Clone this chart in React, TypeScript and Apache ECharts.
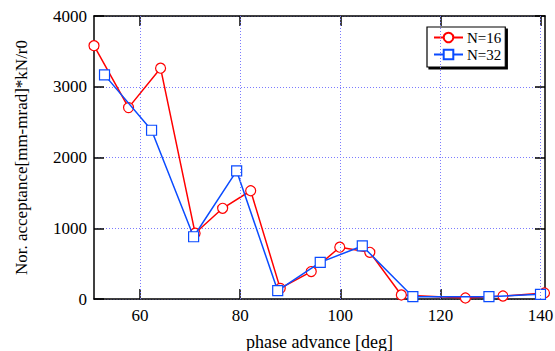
import React, { useEffect, useRef } from "react";
import * as echarts from "echarts";

const n16X = [50.8, 57.7, 64.1, 71.0, 76.5, 82.1, 88.0, 94.2, 99.9, 105.9, 112.2, 125.0, 132.5, 140.8];
const n16Y = [3580, 2705, 3262, 930, 1282, 1530, 150, 388, 732, 660, 57, 14, 42, 85];
const n32X = [52.9, 62.3, 70.7, 79.3, 87.5, 96.0, 104.4, 114.5, 129.7, 140.0];
const n32Y = [3168, 2385, 880, 1810, 118, 518, 750, 33, 33, 66];
const seriesNames = ["N=16", "N=32"];
const xTicks = [60, 80, 100, 120, 140];

const FONT = "Liberation Serif";

export default function App() {
  const ref = useRef<HTMLDivElement>(null);
  useEffect(() => {
    if (!ref.current) return;
    const chart = echarts.init(ref.current, null, { renderer: "svg" });
    const xMin = 50.8;
    const xMax = 140.9;
    const gridLine = { show: true, lineStyle: { color: "#7b7bff", type: [1, 2] as any, width: 1 } };
    const tickStyle = { show: true, inside: true, length: 10, lineStyle: { color: "#000", width: 1.5 } };
    const labelStyle = { fontFamily: FONT, fontSize: 17, color: "#000" };
    chart.setOption({
      animation: false,
      backgroundColor: "#fff",
      textStyle: { fontFamily: FONT },
      grid: { left: 94, right: 10, top: 16, bottom: 52, containLabel: false, outerBoundsMode: "none" },
      legend: {
        orient: "vertical",
        left: 427,
        top: 27,
        padding: [3, 4, 5, 6],
        itemGap: 2,
        itemWidth: 29,
        itemHeight: 12,
        backgroundColor: "#fff",
        borderColor: "#000",
        borderWidth: 1.2,
        shadowColor: "#000",
        shadowOffsetX: 2,
        shadowOffsetY: 2,
        shadowBlur: 0,
        textStyle: { fontFamily: FONT, fontSize: 15, color: "#000", padding: [0, 0, 0, -1] },
        data: seriesNames,
      },
      xAxis: [
        {
          type: "value",
          min: xMin,
          max: xMax,
          name: "phase advance [deg]",
          nameLocation: "middle",
          nameGap: 34,
          nameTextStyle: { fontFamily: FONT, fontSize: 18, color: "#000" },
          axisLine: { show: true, onZero: false, lineStyle: { color: "#000", width: 1.5 } },
          axisTick: { ...tickStyle, customValues: xTicks },
          axisLabel: { ...labelStyle, margin: 8, customValues: xTicks, formatter: (v: number) => String(v) },
          splitLine: { show: false },
        },
        {
          type: "value",
          position: "top",
          min: xMin,
          max: xMax,
          axisLine: { show: true, onZero: false, lineStyle: { color: "#000", width: 1.5 } },
          axisTick: { ...tickStyle, customValues: xTicks },
          axisLabel: { show: false },
          splitLine: { show: false },
        },
      ],
      yAxis: [
        {
          type: "value",
          min: 0,
          max: 4000,
          interval: 1000,
          name: "Nor. acceptance[mm-mrad]*kN/r0",
          nameLocation: "middle",
          nameGap: 64,
          nameTextStyle: { fontFamily: FONT, fontSize: 17, color: "#000" },
          axisLine: { show: true, onZero: false, lineStyle: { color: "#000", width: 1.5 } },
          axisTick: tickStyle,
          axisLabel: { ...labelStyle, margin: 7, formatter: (v: number) => String(v) },
          splitLine: gridLine,
        },
        {
          type: "value",
          position: "right",
          min: 0,
          max: 4000,
          interval: 1000,
          axisLine: { show: true, onZero: false, lineStyle: { color: "#000", width: 1.5 } },
          axisTick: tickStyle,
          axisLabel: { show: false },
          splitLine: { show: false },
        },
      ],
      series: [
        {
          type: "line",
          name: "grid",
          xAxisIndex: 0,
          yAxisIndex: 0,
          data: [],
          silent: true,
          markLine: {
            silent: true,
            symbol: "none",
            label: { show: false },
            lineStyle: { color: "#7b7bff", type: [1, 2], width: 1 },
            data: xTicks.map((v) => ({ xAxis: v })),
          },
        },
        {
          type: "line",
          name: seriesNames[0],
          data: n16X.map((x, i) => [x, n16Y[i]]),
          symbol: "circle",
          symbolSize: 10,
          itemStyle: { color: "#fff", borderColor: "#ff0000", borderWidth: 1.2 },
          lineStyle: { color: "#ff0000", width: 1.5 },
          z: 3,
        },
        {
          type: "line",
          name: seriesNames[1],
          data: n32X.map((x, i) => [x, n32Y[i]]),
          symbol: "rect",
          symbolSize: 10,
          itemStyle: { color: "#fff", borderColor: "#0a4bff", borderWidth: 1.2 },
          lineStyle: { color: "#0a4bff", width: 1.5 },
          z: 4,
        },
      ],
    });
    return () => chart.dispose();
  }, []);
  return <div ref={ref} style={{ width: 555, height: 351, position: "absolute", left: 0, top: 0 }} />;
}
